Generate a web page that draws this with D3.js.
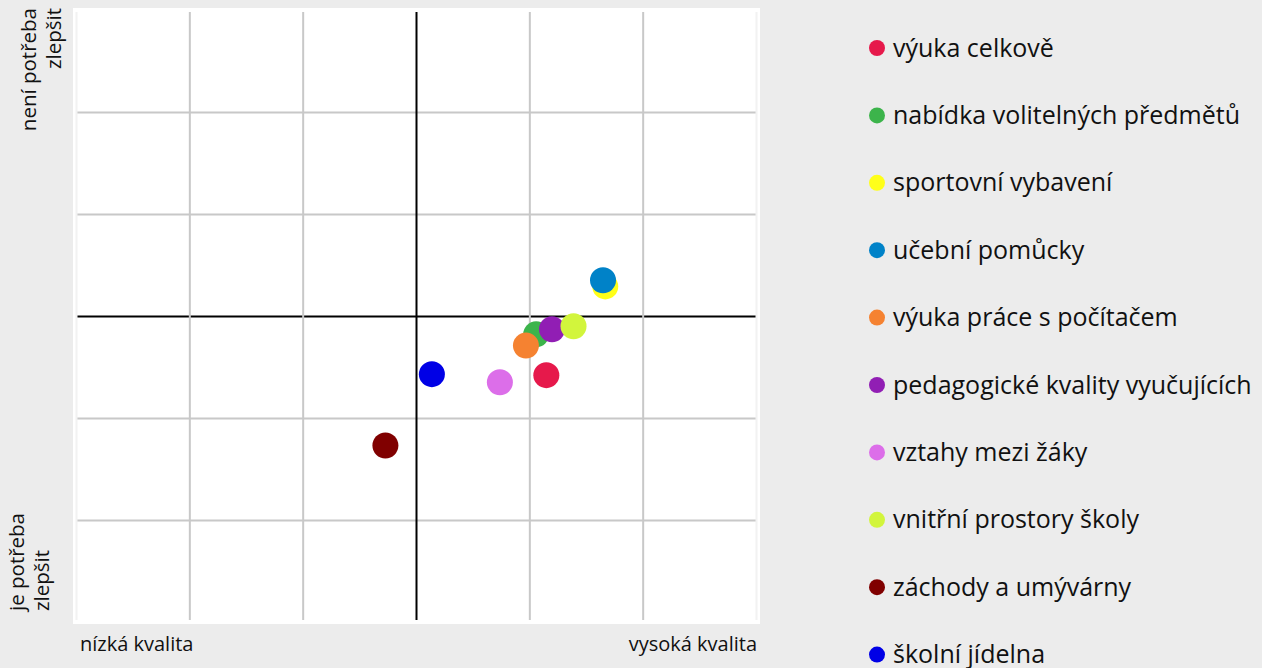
<!DOCTYPE html>
<html>
<head>
<meta charset="utf-8">
<script src="https://cdn.jsdelivr.net/npm/d3@7"></script>
<style>
  html, body { margin: 0; padding: 0; background: #ececec; }
  svg { display: block; font-family: "Open Sans", sans-serif; }
</style>
</head>
<body>
<svg id="chart" width="1262" height="668"></svg>
<script>
const categories = [
  "výuka celkově",
  "nabídka volitelných předmětů",
  "sportovní vybavení",
  "učební pomůcky",
  "výuka práce s počítačem",
  "pedagogické kvality vyučujících",
  "vztahy mezi žáky",
  "vnitřní prostory školy",
  "záchody a umývárny",
  "školní jídelna"
];
const quality = [1.15, 1.06, 1.67, 1.65, 0.97, 1.20, 0.74, 1.39, -0.27, 0.14];
const needImprove = [-0.58, -0.18, 0.29, 0.35, -0.29, -0.13, -0.65, -0.10, -1.27, -0.57];
const colors = ["#e6194b", "#3cb44b", "#ffff19", "#0082c8", "#f58231", "#911eb4", "#dc6ee9", "#d2f53c", "#800000", "#0000e6"];
const gridTicks = [-3, -2, -1, 0, 1, 2, 3];
const xLabels = ["nízká kvalita", "vysoká kvalita"];
const yLabelsTop = ["není potřeba", "zlepšit"];
const yLabelsBottom = ["je potřeba", "zlepšit"];

const svg = d3.select("#chart");
const x = d3.scaleLinear().domain([-3, 3]).range([76, 756]);
const y = d3.scaleLinear().domain([-3, 3]).range([622, 10]);

// plot background
svg.append("rect").attr("x", 73).attr("y", 8).attr("width", 687).attr("height", 616).attr("fill", "#ffffff");

// grid via axes
const gx = svg.append("g").attr("transform", "translate(0,12)")
  .call(d3.axisBottom(x).tickValues(gridTicks).tickSize(608).tickFormat(""));
gx.select(".domain").remove();
gx.selectAll(".tick line")
  .attr("stroke", d => d === 0 ? "#000" : (Math.abs(d) === 3 ? "#f2f2f2" : "#c8c8c8"))
  .attr("stroke-width", 2);

const gy = svg.append("g").attr("transform", "translate(76,0)")
  .call(d3.axisRight(y).tickValues(gridTicks.filter(d => Math.abs(d) < 3)).tickSize(680).tickFormat(""));
gy.select(".domain").remove();
gy.selectAll(".tick line")
  .attr("stroke", d => d === 0 ? "#000" : "#c8c8c8")
  .attr("stroke-width", 2);
gx.raise();

// points
svg.append("g").selectAll("circle").data(categories).join("circle")
  .attr("cx", (d, i) => x(quality[i]))
  .attr("cy", (d, i) => y(needImprove[i]))
  .attr("r", 13)
  .attr("fill", (d, i) => colors[i]);

// axis labels
svg.append("text").attr("x", 80).attr("y", 651).attr("font-size", 20).attr("fill", "#111").text(xLabels[0]);
svg.append("text").attr("x", 757).attr("y", 651).attr("text-anchor", "end").attr("font-size", 20).attr("fill", "#111").text(xLabels[1]);

const tTop = svg.append("text").attr("transform", "translate(36,8) rotate(-90)")
  .attr("text-anchor", "end").attr("font-size", 20.5).attr("fill", "#111");
tTop.append("tspan").attr("x", 0).attr("y", 0).text(yLabelsTop[0]);
tTop.append("tspan").attr("x", 0).attr("y", 25).text(yLabelsTop[1]);

const tBot = svg.append("text").attr("transform", "translate(24,611) rotate(-90)")
  .attr("text-anchor", "start").attr("font-size", 20.5).attr("fill", "#111");
tBot.append("tspan").attr("x", 0).attr("y", 0).text(yLabelsBottom[0]);
tBot.append("tspan").attr("x", 0).attr("y", 25).text(yLabelsBottom[1]);

// legend
const lg = svg.append("g").selectAll("g").data(categories).join("g")
  .attr("transform", (d, i) => `translate(877,${48 + i * 67.4})`);
lg.append("circle").attr("r", 8).attr("fill", (d, i) => colors[i]);
lg.append("text").attr("x", 16).attr("y", 8.5).attr("font-size", 25).attr("fill", "#111").text(d => d);
</script>
</body>
</html>
